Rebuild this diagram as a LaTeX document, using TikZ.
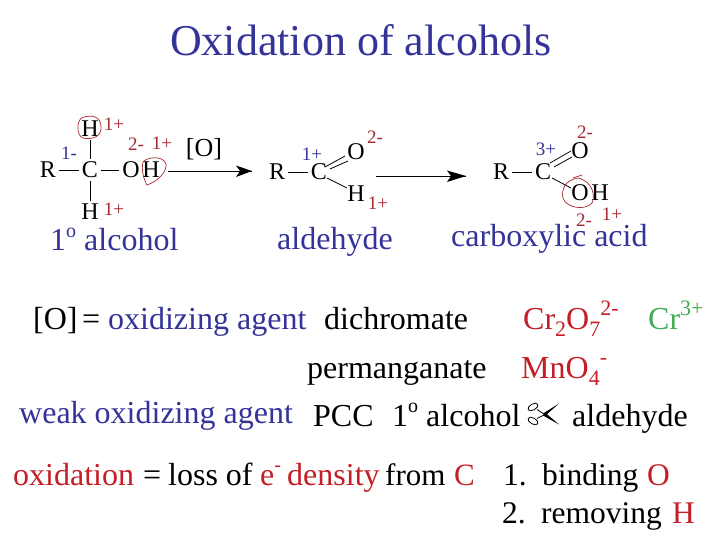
\documentclass[tikz,border=0pt]{standalone}
\usepackage{fontspec}
\setmainfont{Liberation Serif}
\definecolor{tblue}{HTML}{333399}
\definecolor{tred}{HTML}{A82830}
\definecolor{bred}{HTML}{C41E26}
\definecolor{tgreen}{HTML}{44AA55}
\newcommand{\subt}[1]{\raisebox{-0.22em}{\fontsize{22}{22}\selectfont #1}}
\newcommand{\supt}[1]{\raisebox{0.42em}{\fontsize{22}{22}\selectfont #1}}
\tikzset{
  x=1pt,y=-1pt,
  txt/.style={inner sep=0pt,anchor=base west,font=\fontsize{#1}{#1}\selectfont},
  atom/.style={inner sep=0pt,outer sep=3pt,anchor=center,font=\fontsize{24}{24}\selectfont},
  chg/.style={inner sep=0pt,anchor=center,font=\fontsize{19}{19}\selectfont,tred},
  chgb/.style={inner sep=0pt,anchor=center,font=\fontsize{19}{19}\selectfont,tblue},
  bond/.style={draw=black,line width=0.8pt},
  rxn/.style={draw=black,line width=0.9pt},
  ring/.style={draw=tred,line width=0.7pt}
}
\begin{document}
\begin{tikzpicture}
\useasboundingbox[fill=white] (0,0) rectangle (720,540);
\node[txt=44,tblue] (title) at (170,56) {Oxidation of alcohols};
% alcohol
\node[atom] (aR) at (48,170) {R};
\node[atom] (aC) at (90,170) {C};
\node[atom] (aO) at (131,170) {O};
\node[atom] (aHo) at (151,170) {H};
\node[atom] (aHt) at (90,129) {H};
\node[atom] (aHb) at (90,212) {H};
\draw[bond] (aR) -- (aC);
\draw[bond] (aC) -- (aO);
\draw[bond] (aC) -- (aHt);
\draw[bond] (aC) -- (aHb);
\node[chg] (c1) at (114,124) {1+};
\node[chgb] (c2) at (69,153) {1-};
\node[chg] (c3) at (136,144) {2-};
\node[chg] (c4) at (162,143) {1+};
\node[chg] (c5) at (114,209) {1+};
\node[inner sep=0pt,anchor=center,font=\fontsize{26}{26}\selectfont] (ox) at (204,149) {[O]};
\draw[ring] (84,117) .. controls (76,118) and (76,136) .. (83,138) .. controls (92,140) and (102,137) .. (101,126) .. controls (100,116) and (92,115) .. (84,117);
\draw[ring] (143,162) .. controls (147,157) and (163,155) .. (166,164) .. controls (167,172) and (158,181) .. (147,185) .. controls (144,180) and (141,170) .. (143,162);
\node[txt=32,tblue] (n1) at (50,251) {1\raisebox{0.42em}{\fontsize{20}{20}\selectfont o} alcohol};
% arrow 1
\coordinate (a1s) at (168,171);
\coordinate (a1e) at (252,171);
\draw[rxn] (a1s) -- (a1e);
\fill[black] (a1e) -- (236,165.5) -- (240,171) -- (236,177) -- cycle;
% aldehyde
\node[atom] (bR) at (277,172) {R};
\node[atom] (bC) at (319,172) {C};
\node[atom] (bO) at (356,152) {O};
\node[atom] (bH) at (356,194) {H};
\draw[bond] (bR) -- (bC);
\draw[bond] (325,167) -- (345,156);
\draw[bond] (330,169) -- (348,161);
\draw[bond] (327,178) -- (347,188);
\node[chgb] (c6) at (312,154) {1+};
\node[chg] (c7) at (375,137) {2-};
\node[chg] (c8) at (378,203) {1+};
\node[txt=32,tblue] (n2) at (277,249) {aldehyde};
% arrow 2
\coordinate (a2s) at (376,176);
\coordinate (a2e) at (466,176);
\draw[rxn] (a2s) -- (a2e);
\fill[black] (a2e) -- (447,170.5) -- (451,176) -- (447,182) -- cycle;
% acid
\node[atom] (dR) at (501,172) {R};
\node[atom] (dC) at (543,172) {C};
\node[atom] (dO) at (580,151) {O};
\node[atom] (dOh) at (580,193) {O};
\node[atom] (dH) at (600,193) {H};
\draw[bond] (dR) -- (dC);
\draw[bond] (550,163) -- (571,151);
\draw[bond] (554,167) -- (572,157);
\draw[bond] (552,178) -- (571,188);
\node[chgb] (c9) at (546,149) {3+};
\node[chg] (c10) at (585,132) {2-};
\node[chg] (c11) at (584,220) {2-};
\node[chg] (c12) at (612,214) {1+};
\draw[ring] (578,178) .. controls (565,180) and (561,190) .. (563,198) .. controls (566,208) and (585,211) .. (592,203) .. controls (595,197) and (594,182) .. (578,178);
\draw[ring] (573,178) -- (582,175);
\node[txt=32,tblue] (n3) at (451,247) {carboxylic acid};
% text lines
\node[txt=32] (l1) at (33,329) {[O]};
\node[txt=32] (l1e) at (82,329) {=};
\node[txt=32,tblue] (l1a) at (108,329) {oxidizing agent};
\node[txt=32] (l1b) at (324,329) {dichromate};
\node[txt=32,bred] (l1c) at (523,329) {Cr\subt{2}O\subt{7}\supt{2-}};
\node[txt=32,tgreen] (l1d) at (648,329) {Cr\supt{3+}};
\node[txt=32] (l2) at (307,378) {permanganate};
\node[txt=32,bred] (l2b) at (521,378) {MnO\subt{4}\supt{-}};
\node[txt=32,tblue] (l3) at (19,423) {weak oxidizing agent};
\node[txt=32] (l3b) at (313,426) {PCC};
\node[txt=32] (l3c) at (392,426) {1\raisebox{0.42em}{\fontsize{20}{20}\selectfont o} alcohol};
% scissors
\draw[line width=0.8pt,rotate around={30:(533,407)}] (533,407) ellipse (5.5 and 3);
\draw[line width=0.8pt,rotate around={-30:(533,421)}] (533,421) ellipse (5.5 and 3);
\draw[line width=0.8pt] (537,409.5) -- (544,414);
\draw[line width=0.8pt] (537,418.5) -- (544,415);
\fill[black] (543,413.5) -- (559,403.5) -- (545,416) -- cycle;
\fill[black] (543,415.5) -- (545,412.5) -- (559,424.5) -- cycle;
\node[txt=32] (l3d) at (572,426) {aldehyde};
\node[txt=32,bred] (l4) at (13,485) {oxidation};
\node[txt=32] (l4a) at (143,485) {=};
\node[txt=32] (l4c) at (168,485) {loss of};
\node[txt=32,bred] (l4d) at (260,485) {e\raisebox{0.42em}{\fontsize{20}{20}\selectfont -}};
\node[txt=32,bred] (l4e) at (287,485) {density};
\node[txt=31] (l4f) at (385,485) {from};
\node[txt=31,bred] (l4g) at (454,485) {C};
\node[txt=31.5] (l5) at (503,485) {1.};
\node[txt=31.5] (l5a) at (542,485) {binding};
\node[txt=31.5,bred] (l5b) at (647,485) {O};
\node[txt=31.5] (l6) at (502,523) {2.};
\node[txt=31.5] (l6a) at (541,523) {removing};
\node[txt=31.5,bred] (l6b) at (672,523) {H};
\end{tikzpicture}
\end{document}
